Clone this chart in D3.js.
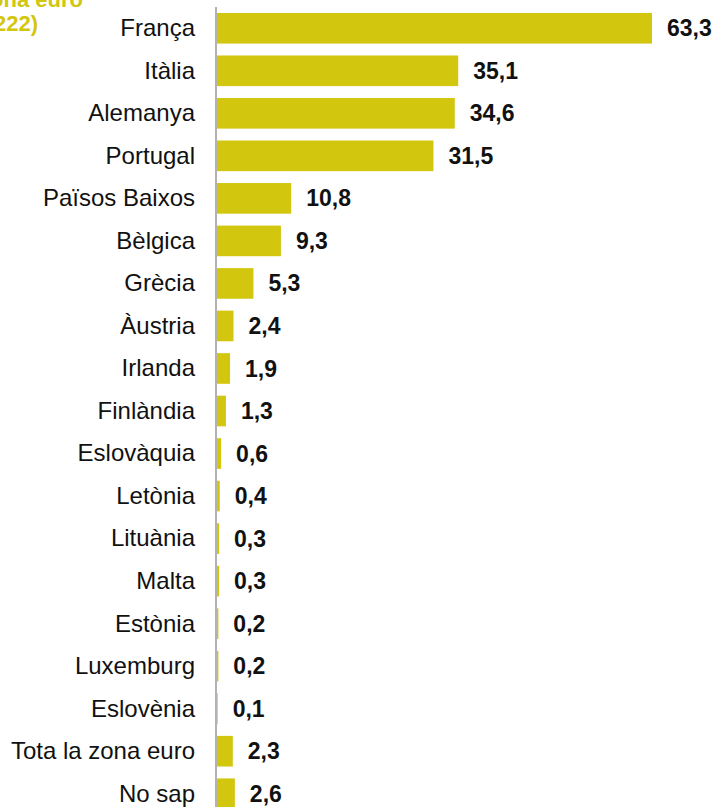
<html>
<head>
  <meta charset="utf-8">
  <script src="https://d3js.org/d3.v7.min.js"></script>
  <style>
    body { margin: 0; background: #fff; }
    text { font-family: "Liberation Sans", Arial, sans-serif; }
  </style>
</head>
<body>
<div id="chart"></div>
<script>
  const countries = ["França", "Itàlia", "Alemanya", "Portugal", "Països Baixos", "Bèlgica", "Grècia",
    "Àustria", "Irlanda", "Finlàndia", "Eslovàquia", "Letònia", "Lituània", "Malta", "Estònia",
    "Luxemburg", "Eslovènia", "Tota la zona euro", "No sap"];
  const values = [63.3, 35.1, 34.6, 31.5, 10.8, 9.3, 5.3, 2.4, 1.9, 1.3, 0.6, 0.4, 0.3, 0.3, 0.2, 0.2, 0.1, 2.3, 2.6];
  const titleLines = ["Principals destinacions a la zona euro", "(n=222)"];

  const width = 717, height = 807;
  const svg = d3.select("#chart").append("svg").attr("width", width).attr("height", height);

  const left = 217;
  const xScale = d3.scaleLinear().domain([0, 63.3]).range([left, 652]);
  const yScale = d3.scaleBand().domain(countries).range([7, 815]).paddingInner(0.28).paddingOuter(0.14);

  // title (cut off at left edge, as in the original)
  svg.selectAll("text.title")
     .data(titleLines)
     .enter()
     .append("text")
      .attr("class", "title")
      .attr("x", (d, i) => i == 0 ? 83 : 38)
      .attr("y", (d, i) => 7 + i * 24)
      .attr("text-anchor", "end")
      .attr("font-size", "22px")
      .attr("font-weight", "bold")
      .attr("fill", "#d2c60e")
      .text(d => d);

  //bars
  svg.selectAll("rect")
     .data(countries)
     .enter()
     .append("rect")
      .attr("x", left)
      .attr("y", d => yScale(d))
      .attr("width", (d, i) => xScale(values[i]) - left)
      .attr("height", yScale.bandwidth())
      .attr("fill", "#d2c60e");

  //axis line
  svg.append("line")
     .attr("x1", left - 1).attr("x2", left - 1)
     .attr("y1", 7).attr("y2", height)
     .attr("stroke", "#999").attr("stroke-width", 1.5);

  //category labels
  svg.selectAll("text.cat")
     .data(countries)
     .enter()
     .append("text")
      .attr("class", "cat")
      .attr("x", 195)
      .attr("y", d => yScale(d) + yScale.bandwidth() / 2)
      .attr("dy", "0.33em")
      .attr("text-anchor", "end")
      .attr("font-size", "24px")
      .attr("fill", "#111")
      .text(d => d);

  //value labels
  svg.selectAll("text.val")
     .data(countries)
     .enter()
     .append("text")
      .attr("class", "val")
      .attr("x", (d, i) => xScale(values[i]) + 15)
      .attr("y", d => yScale(d) + yScale.bandwidth() / 2)
      .attr("dy", "0.35em")
      .attr("font-size", "23px")
      .attr("font-weight", "bold")
      .attr("fill", "#111")
      .text((d, i) => d3.format(".1f")(values[i]).replace(".", ","));
</script>
</body>
</html>
